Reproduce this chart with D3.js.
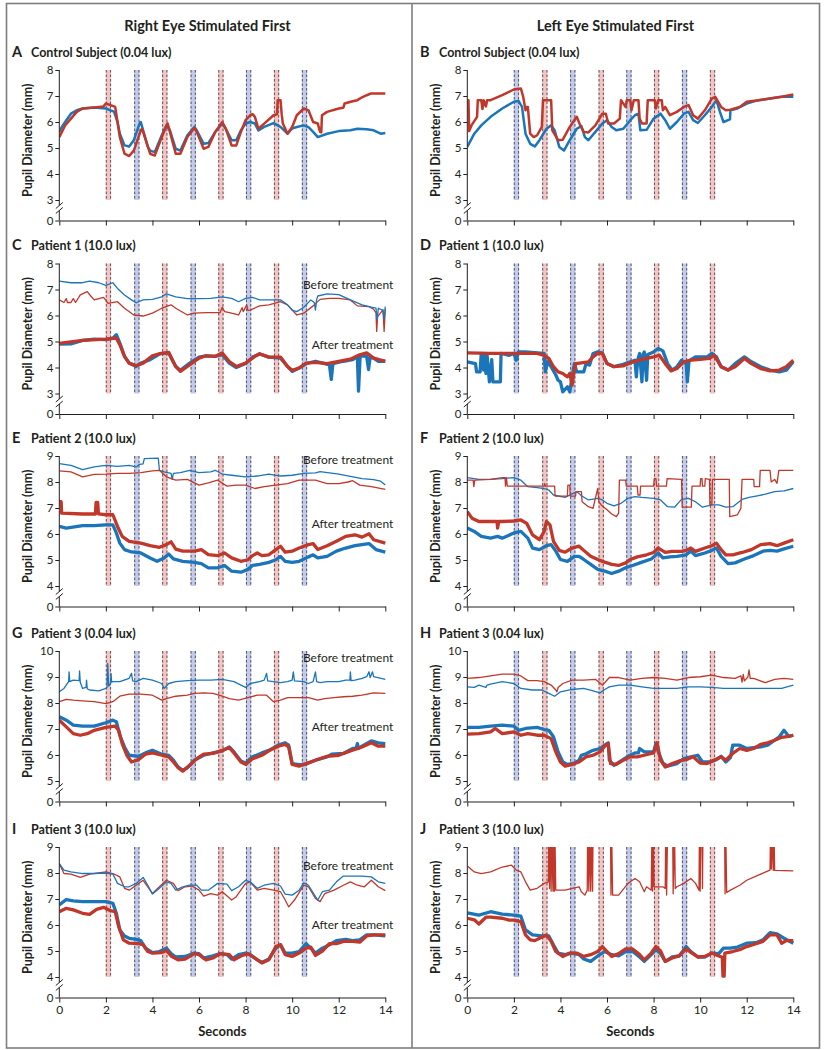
<!DOCTYPE html>
<html><head><meta charset="utf-8">
<script src="https://cdn.jsdelivr.net/npm/d3@7"></script>
<style>
body{margin:0;background:#fff}
svg{display:block}
text{font-family:Lato,"Open Sans",sans-serif;fill:#231f20}
</style>
</head><body>
<svg id="c" width="827" height="1050"></svg>
<script>
// ---------------- DATA ----------------
const columnTitles = ["Right Eye Stimulated First", "Left Eye Stimulated First"];
const xTicks = [0, 2, 4, 6, 8, 10, 12, 14];
const rowTicks = [[3,4,5,6,7,8],[3,4,5,6,7,8],[4,5,6,7,8,9],[5,6,7,8,9,10],[4,5,6,7,8,9]];
const stimStarts = [2.0, 3.22, 4.42, 5.64, 6.83, 8.02, 9.22, 10.42];
const stimWidth = 0.22;

const A_blue = [[0,5.62],[0.1,5.8],[0.25,6.0],[0.5,6.32],[0.75,6.45],[1,6.52],[1.5,6.56],[2,6.52],[2.2,6.45],[2.35,6.4],[2.5,6.0],[2.6,5.55],[2.8,5.1],[3.0,5.06],[3.2,5.3],[3.45,5.95],[3.5,6.0],[3.6,5.68],[3.8,5.05],[3.9,4.9],[4.1,4.84],[4.4,5.49],[4.6,5.87],[4.75,5.68],[5.0,4.97],[5.2,4.9],[5.5,5.49],[5.8,5.81],[5.9,5.68],[6.2,5.16],[6.4,5.19],[6.7,5.62],[7.0,5.94],[7.15,5.74],[7.4,5.3],[7.6,5.3],[7.8,5.68],[8.0,5.94],[8.2,6.0],[8.4,5.94],[8.55,5.68],[8.8,5.81],[9.2,5.96],[9.5,5.81],[9.8,5.55],[10.0,5.75],[10.2,5.81],[10.5,5.87],[10.7,5.8],[10.9,5.62],[11.1,5.42],[11.5,5.55],[12.0,5.65],[12.5,5.68],[12.8,5.74],[13.2,5.72],[13.5,5.68],[13.8,5.55],[14,5.58]];
const A_red = [[0,5.42],[0.25,5.87],[0.5,6.13],[0.75,6.39],[1,6.52],[1.5,6.56],[1.9,6.6],[2.0,6.71],[2.2,6.65],[2.4,6.58],[2.5,6.0],[2.6,5.42],[2.8,4.78],[3.0,4.69],[3.2,4.9],[3.5,5.68],[3.55,5.74],[3.6,5.62],[3.9,4.78],[4.1,4.71],[4.4,5.42],[4.65,5.95],[4.75,5.62],[5.0,4.78],[5.2,4.78],[5.5,5.42],[5.8,5.77],[5.9,5.62],[6.2,4.97],[6.4,5.04],[6.7,5.62],[7.0,6.0],[7.15,5.74],[7.4,5.1],[7.6,5.1],[7.8,5.62],[8.0,6.07],[8.2,6.26],[8.3,6.3],[8.4,6.2],[8.55,5.74],[8.8,5.94],[9.2,6.26],[9.35,6.3],[9.38,6.84],[9.5,6.84],[9.55,6.3],[9.6,5.94],[9.8,5.55],[10.0,5.81],[10.2,6.26],[10.5,6.52],[10.7,6.45],[10.9,6.0],[11.1,5.94],[11.2,5.62],[11.25,5.6],[11.28,6.26],[11.5,6.39],[12.0,6.52],[12.2,6.55],[12.25,6.71],[12.6,6.8],[12.8,6.84],[13.0,6.95],[13.2,7.03],[13.4,7.1],[14,7.1]];

const B_blue = [[0,5.04],[0.3,5.55],[0.6,5.87],[1.0,6.2],[1.5,6.52],[2.0,6.78],[2.2,6.81],[2.35,6.58],[2.5,5.55],[2.7,5.16],[2.9,5.06],[3.1,5.3],[3.4,5.74],[3.6,5.87],[3.75,5.68],[3.95,5.04],[4.15,4.9],[4.4,5.3],[4.7,5.74],[4.9,5.84],[5.05,5.42],[5.2,5.3],[5.5,5.62],[5.8,5.94],[6.0,6.07],[6.2,5.81],[6.4,5.68],[6.7,5.74],[7.0,6.07],[7.2,6.26],[7.35,6.32],[7.43,5.68],[7.7,5.7],[8.0,6.13],[8.3,6.32],[8.5,6.07],[8.7,5.74],[9.0,6.0],[9.3,6.32],[9.5,6.39],[9.7,6.07],[9.9,5.96],[10.2,6.26],[10.5,6.58],[10.7,6.84],[10.85,6.39],[11.0,6.0],[11.28,6.1],[11.3,6.45],[11.6,6.52],[12.0,6.71],[12.5,6.84],[13.0,6.9],[13.5,6.97],[14,6.97]];
const B_red = [[0,6.84],[0.05,6.84],[0.08,5.65],[0.2,5.9],[0.35,6.1],[0.42,6.2],[0.45,6.84],[0.6,6.84],[0.65,6.5],[0.7,6.84],[0.8,6.6],[0.85,6.84],[1.0,6.84],[1.5,7.03],[2.0,7.25],[2.3,7.29],[2.4,6.97],[2.5,6.45],[2.55,6.58],[2.6,6.58],[2.7,5.55],[2.85,5.42],[3.0,5.49],[3.2,5.81],[3.25,6.84],[3.6,6.84],[3.65,5.68],[3.9,5.3],[4.1,5.32],[4.4,5.81],[4.7,6.2],[4.85,5.87],[5.0,5.62],[5.2,5.6],[5.5,5.87],[5.8,6.32],[5.95,6.32],[6.05,5.94],[6.3,5.94],[6.55,6.13],[6.6,6.84],[6.8,6.58],[6.85,6.84],[7.0,6.84],[7.05,6.45],[7.15,6.84],[7.35,6.84],[7.4,6.13],[7.5,5.94],[7.7,5.94],[7.75,6.84],[8.05,6.84],[8.1,6.52],[8.2,6.84],[8.35,6.84],[8.4,6.45],[8.5,6.58],[8.7,6.26],[9.0,6.39],[9.3,6.58],[9.5,6.65],[9.7,6.26],[9.9,6.13],[10.2,6.45],[10.5,6.9],[10.65,6.97],[10.9,6.58],[11.1,6.45],[11.3,6.47],[11.7,6.58],[12.0,6.78],[12.5,6.84],[13.0,6.9],[13.5,6.97],[14,7.06]];

const C_blueBefore = [[0,7.32],[0.5,7.26],[1.0,7.26],[1.3,7.32],[1.7,7.26],[2.0,7.16],[2.3,7.26],[2.5,7.04],[2.8,6.79],[3.1,6.6],[3.3,6.49],[3.6,6.6],[4.0,6.62],[4.4,6.72],[4.6,6.83],[5.0,6.72],[5.5,6.65],[6.0,6.65],[6.5,6.66],[7.0,6.72],[7.4,6.66],[7.7,6.53],[8.0,6.66],[8.3,6.7],[8.6,6.6],[9.0,6.6],[9.5,6.6],[9.8,6.41],[10.0,6.21],[10.2,6.15],[10.5,6.32],[10.8,6.6],[10.95,6.5],[11.0,6.21],[11.05,6.6],[11.1,6.75],[11.5,6.83],[12.0,6.8],[12.5,6.6],[13.0,6.41],[13.4,6.32],[13.6,6.28],[13.65,5.83],[13.7,6.28],[13.9,6.2],[13.95,5.83],[14,6.34]];
const C_redBefore = [[0,6.6],[0.2,6.5],[0.3,6.65],[0.35,6.5],[0.5,6.5],[0.6,6.65],[0.7,6.5],[0.9,6.79],[1.2,6.92],[1.35,6.75],[1.5,6.6],[1.9,6.7],[2.1,6.47],[2.5,6.53],[2.8,6.28],[3.2,6.02],[3.6,5.98],[4.0,6.09],[4.4,6.28],[4.8,6.41],[5.0,6.28],[5.5,6.02],[5.8,6.09],[6.3,6.11],[6.9,6.11],[7.0,6.32],[7.1,6.15],[7.3,6.11],[7.7,6.02],[7.85,6.3],[7.9,6.15],[8.05,6.41],[8.1,6.2],[8.2,6.21],[8.6,6.37],[9.0,6.41],[9.5,6.53],[9.8,6.41],[10.0,6.21],[10.2,6.02],[10.5,6.09],[10.9,6.37],[11.2,6.62],[11.6,6.66],[12.0,6.66],[12.5,6.6],[12.8,6.37],[13.3,6.34],[13.5,6.24],[13.6,6.1],[13.63,5.39],[13.67,5.96],[13.9,6.22],[13.95,5.39],[14,6.25]];
const C_blueAfter = [[0,4.9],[0.5,4.91],[1.0,5.04],[1.5,5.09],[2.0,5.07],[2.3,5.13],[2.45,5.26],[2.6,4.94],[2.8,4.43],[3.0,4.17],[3.3,4.04],[3.5,4.17],[3.9,4.3],[4.3,4.52],[4.7,4.56],[4.85,4.3],[5.0,4.04],[5.2,3.89],[5.6,4.17],[6.0,4.4],[6.3,4.45],[6.7,4.43],[7.0,4.49],[7.3,4.17],[7.6,4.0],[8.0,4.15],[8.3,4.4],[8.6,4.52],[9.0,4.4],[9.5,4.36],[9.8,4.04],[10.0,3.85],[10.3,3.98],[10.6,4.15],[11.0,4.24],[11.4,4.15],[11.6,4.1],[11.68,3.54],[11.75,4.15],[12.2,4.24],[12.6,4.3],[12.8,4.43],[12.85,3.09],[12.92,4.45],[13.2,4.43],[13.28,3.92],[13.35,4.4],[13.5,4.36],[13.7,4.24],[14,4.24]];
const C_redAfter = [[0,4.93],[1.0,5.04],[2.0,5.09],[2.45,5.13],[2.6,4.88],[2.8,4.43],[3.0,4.17],[3.3,4.07],[3.6,4.17],[4.0,4.45],[4.3,4.53],[4.7,4.58],[4.85,4.3],[5.0,4.04],[5.2,3.85],[5.5,4.04],[6.0,4.36],[6.3,4.45],[6.7,4.43],[7.0,4.56],[7.3,4.23],[7.6,4.04],[8.0,4.17],[8.4,4.43],[8.6,4.53],[9.0,4.4],[9.5,4.4],[9.8,4.04],[10.0,3.89],[10.3,3.98],[10.6,4.17],[11.0,4.2],[11.5,4.15],[12.0,4.24],[12.5,4.32],[12.9,4.49],[13.2,4.56],[13.5,4.36],[14,4.24]];

const D_blue = [[0,4.22],[0.35,4.15],[0.4,3.83],[0.55,3.83],[0.6,4.54],[0.7,3.9],[0.75,4.5],[0.8,3.77],[0.85,4.47],[0.95,3.45],[1.05,4.3],[1.1,3.45],[1.42,3.45],[1.45,4.54],[1.8,4.47],[2.0,4.54],[2.1,4.28],[2.2,4.6],[2.5,4.6],[3.0,4.56],[3.3,4.54],[3.35,3.83],[3.45,4.22],[3.6,4.03],[3.8,3.71],[3.9,3.51],[4.0,3.45],[4.1,3.06],[4.3,3.26],[4.4,3.06],[4.5,3.64],[4.6,4.15],[4.7,3.83],[5.0,3.83],[5.1,4.15],[5.25,4.09],[5.4,4.54],[5.6,4.6],[5.8,4.56],[6.0,4.15],[6.3,4.03],[6.7,4.12],[7.0,4.22],[7.2,4.28],[7.26,3.64],[7.32,4.3],[7.4,4.54],[7.5,3.45],[7.55,4.5],[7.6,4.6],[7.7,3.51],[7.75,4.5],[8.0,4.6],[8.2,4.73],[8.4,4.64],[8.6,4.15],[8.8,3.9],[9.0,4.03],[9.2,4.28],[9.4,4.15],[9.45,3.45],[9.52,4.25],[9.8,4.41],[10.3,4.41],[10.5,4.54],[10.7,4.41],[10.9,4.03],[11.2,3.9],[11.5,4.15],[11.9,4.41],[12.2,4.22],[12.6,4.03],[13.0,3.9],[13.4,3.83],[13.7,3.9],[14,4.22]];
const D_red = [[0,4.56],[1,4.54],[2.0,4.54],[3.0,4.54],[3.3,4.47],[3.5,4.35],[3.7,4.03],[3.9,3.83],[4.1,3.77],[4.3,3.64],[4.4,3.77],[4.5,3.32],[4.55,3.64],[4.65,4.15],[4.9,4.18],[5.2,4.22],[5.4,4.41],[5.6,4.54],[5.8,4.54],[6.0,4.15],[6.3,4.03],[6.7,4.06],[7.0,4.18],[7.5,4.31],[8.0,4.41],[8.25,4.47],[8.5,4.15],[8.75,3.87],[9.0,3.96],[9.3,4.22],[9.6,4.28],[10.0,4.31],[10.4,4.35],[10.6,4.47],[10.9,4.03],[11.2,3.9],[11.5,4.03],[11.9,4.35],[12.2,4.15],[12.6,3.96],[13.0,3.87],[13.4,3.9],[13.7,4.03],[14,4.28]];

const E_blueBefore = [[0,8.71],[0.5,8.64],[1.0,8.48],[1.5,8.58],[2.0,8.64],[2.5,8.6],[3.0,8.64],[3.3,8.58],[3.45,8.68],[3.6,8.7],[3.65,8.9],[4.25,8.92],[4.3,8.45],[4.5,8.39],[4.8,8.33],[4.85,8.1],[4.9,8.33],[5.2,8.36],[5.6,8.45],[6.0,8.36],[6.5,8.39],[6.7,8.45],[7.0,8.3],[7.4,8.26],[8.0,8.2],[8.5,8.23],[9.0,8.3],[9.5,8.23],[10.0,8.26],[10.5,8.33],[11.0,8.35],[11.2,8.4],[12.0,8.3],[13.0,8.13],[13.5,8.09],[13.8,8.03],[14,7.88]];
const E_redBefore = [[0,8.43],[0.5,8.39],[1.0,8.2],[1.5,8.29],[2.0,8.3],[2.5,8.33],[3.0,8.33],[3.5,8.36],[4.0,8.43],[4.3,8.45],[4.6,8.2],[5.0,8.07],[5.5,8.1],[6.0,7.88],[6.4,7.97],[6.8,8.07],[7.2,7.84],[7.6,7.88],[8.0,7.88],[8.4,7.75],[8.8,7.82],[9.3,7.88],[9.8,7.94],[10.3,8.07],[11.0,8.07],[11.5,7.94],[12.0,7.94],[12.4,8.0],[12.6,8.05],[12.9,7.88],[13.4,7.82],[14,7.72]];
const E_blueAfter = [[0,6.29],[0.3,6.23],[1.0,6.32],[1.5,6.32],[2.0,6.35],[2.3,6.35],[2.45,6.04],[2.6,5.65],[2.8,5.4],[3.1,5.31],[3.5,5.27],[3.9,5.08],[4.2,4.95],[4.5,5.08],[4.7,5.23],[4.9,5.04],[5.3,4.95],[5.8,4.91],[6.1,4.86],[6.4,4.7],[6.8,4.7],[7.1,4.79],[7.4,4.57],[7.8,4.53],[8.1,4.64],[8.3,4.79],[8.6,4.83],[9.0,4.91],[9.3,5.01],[9.5,5.14],[9.7,4.95],[10.0,4.91],[10.3,4.95],[10.7,5.12],[10.9,5.2],[11.1,5.08],[11.5,5.14],[11.9,5.34],[12.3,5.46],[12.7,5.55],[13.0,5.59],[13.3,5.63],[13.6,5.4],[14,5.3]];
const E_redAfter = [[0,7.24],[0.08,7.24],[0.1,6.8],[1.0,6.77],[1.55,6.77],[1.58,7.22],[1.65,7.22],[1.68,6.77],[2.0,6.74],[2.3,6.74],[2.5,6.29],[2.7,5.91],[3.0,5.72],[3.5,5.65],[3.9,5.55],[4.3,5.49],[4.6,5.59],[4.8,5.7],[5.0,5.42],[5.3,5.34],[5.8,5.34],[6.1,5.4],[6.4,5.21],[6.8,5.17],[7.1,5.27],[7.4,5.08],[7.8,4.95],[8.1,5.01],[8.3,5.17],[8.5,5.27],[8.7,5.17],[9.0,5.2],[9.3,5.4],[9.5,5.53],[9.7,5.3],[10.0,5.34],[10.3,5.46],[10.7,5.59],[10.9,5.63],[11.1,5.4],[11.5,5.55],[11.9,5.72],[12.3,5.91],[12.7,5.97],[13.0,5.88],[13.3,6.01],[13.5,5.78],[14,5.65]];

const F_blueBefore = [[0,8.17],[0.5,8.1],[1.0,8.1],[1.5,8.13],[2.0,8.17],[2.3,8.07],[2.6,7.82],[3.0,7.78],[3.3,7.75],[3.5,7.69],[3.7,7.5],[4.2,7.41],[4.7,7.63],[4.9,7.47],[5.2,7.31],[5.6,7.37],[5.8,7.31],[6.0,7.18],[6.3,7.08],[6.6,7.18],[6.9,7.37],[7.2,7.44],[7.5,7.41],[8.0,7.37],[8.3,7.31],[8.6,7.05],[8.9,7.03],[9.2,7.33],[9.5,7.37],[9.8,7.24],[10.1,7.03],[10.5,7.12],[10.8,7.12],[11.1,7.03],[11.4,7.05],[11.8,7.33],[12.1,7.41],[12.4,7.46],[12.8,7.53],[13.2,7.63],[13.6,7.66],[14,7.75]];
const F_redBefore = [[0,8.07],[0.25,8.07],[0.28,7.82],[0.32,8.07],[1.0,8.1],[1.5,8.17],[1.62,8.17],[1.64,7.84],[1.68,8.17],[1.72,7.84],[2.0,7.84],[3.0,7.84],[3.3,7.84],[3.32,7.94],[3.36,7.84],[3.75,7.84],[3.77,7.46],[4.3,7.46],[4.32,7.88],[4.4,7.88],[4.42,7.46],[4.65,7.46],[4.67,7.63],[4.9,7.63],[4.93,7.24],[5.2,7.05],[5.4,6.99],[5.5,7.37],[5.6,7.75],[5.65,7.24],[5.75,7.12],[6.0,6.93],[6.2,6.77],[6.4,6.67],[6.5,6.8],[6.53,8.07],[6.8,8.07],[6.83,7.84],[7.3,7.84],[7.33,7.5],[7.42,7.5],[7.44,7.84],[8.0,7.84],[8.03,8.13],[8.1,8.13],[8.13,7.84],[8.55,7.84],[8.58,8.13],[9.2,8.1],[9.23,7.03],[9.62,7.03],[9.65,7.84],[10.0,7.84],[10.02,8.13],[10.08,8.13],[10.1,7.84],[10.2,7.84],[10.22,8.13],[10.4,8.1],[10.42,7.12],[10.5,7.12],[10.53,8.1],[11.25,8.1],[11.27,6.67],[11.6,6.74],[11.75,6.99],[11.8,8.1],[12.3,8.1],[12.32,7.82],[12.55,7.82],[12.58,8.45],[13.0,8.45],[13.05,8.0],[13.2,8.1],[13.3,7.95],[13.38,8.45],[14,8.45]];
const F_blueAfter = [[0,6.23],[0.3,6.1],[0.6,5.91],[1.0,5.84],[1.3,5.91],[1.5,5.84],[2.0,6.04],[2.3,6.1],[2.6,5.84],[2.8,5.46],[3.1,5.4],[3.4,5.55],[3.6,5.59],[3.8,5.34],[4.0,5.02],[4.3,4.95],[4.6,5.14],[4.8,5.14],[5.0,5.02],[5.3,4.83],[5.6,4.64],[5.9,4.57],[6.2,4.48],[6.5,4.57],[6.8,4.7],[7.1,4.79],[7.5,4.92],[7.9,5.04],[8.2,5.27],[8.4,5.08],[8.7,5.12],[9.0,5.14],[9.4,5.2],[9.6,5.34],[9.8,5.17],[10.2,5.27],[10.5,5.37],[10.7,5.46],[10.9,5.14],[11.2,4.86],[11.5,4.89],[11.9,5.04],[12.3,5.17],[12.7,5.34],[13.0,5.37],[13.3,5.34],[13.6,5.43],[14,5.53]];
const F_redAfter = [[0,6.86],[0.2,6.61],[0.5,6.48],[1.0,6.48],[1.28,6.48],[1.3,6.23],[1.35,6.48],[1.5,6.48],[2.0,6.5],[2.3,6.54],[2.55,6.41],[2.8,5.97],[3.1,5.78],[3.3,6.1],[3.4,6.48],[3.55,6.35],[3.7,5.72],[3.95,5.37],[4.2,5.3],[4.5,5.46],[4.8,5.53],[5.0,5.37],[5.3,5.14],[5.6,5.02],[5.9,4.92],[6.2,4.83],[6.5,4.79],[6.8,4.89],[7.0,5.02],[7.3,5.12],[7.7,5.2],[8.0,5.29],[8.2,5.46],[8.5,5.29],[8.8,5.33],[9.2,5.33],[9.4,5.37],[9.6,5.46],[9.8,5.33],[10.2,5.46],[10.5,5.55],[10.7,5.65],[10.9,5.4],[11.1,5.2],[11.4,5.2],[11.8,5.29],[12.2,5.4],[12.6,5.59],[13.0,5.63],[13.3,5.55],[13.6,5.65],[14,5.78]];

const G_blueBefore = [[0,8.43],[0.2,8.56],[0.4,8.82],[0.42,9.2],[0.45,8.82],[0.6,8.88],[0.85,8.86],[0.87,9.23],[0.9,8.8],[1.0,8.56],[1.15,8.6],[1.17,8.88],[1.2,8.55],[1.3,8.5],[1.7,8.47],[2.0,8.56],[2.05,8.6],[2.08,9.52],[2.12,8.65],[2.2,8.75],[2.22,9.14],[2.25,8.8],[2.3,8.82],[2.6,8.82],[3.0,8.95],[3.1,9.14],[3.15,8.85],[3.3,8.82],[3.6,8.95],[4.0,8.88],[4.4,8.75],[4.5,8.56],[4.7,8.75],[5.0,8.82],[5.5,8.86],[6.0,8.88],[6.5,8.88],[7.0,8.91],[7.5,8.82],[7.8,8.69],[8.0,8.6],[8.2,8.75],[8.6,8.82],[8.8,8.88],[8.9,9.14],[8.95,8.85],[9.2,8.82],[9.5,8.78],[9.8,8.82],[10.0,8.88],[10.05,9.2],[10.1,8.85],[10.5,8.82],[10.7,8.75],[10.9,8.82],[11.0,9.2],[11.05,8.82],[11.2,8.78],[11.5,8.82],[12.0,8.82],[12.3,8.88],[12.48,8.88],[12.5,9.2],[12.53,8.86],[12.7,8.88],[13.0,8.95],[13.2,9.01],[13.3,9.2],[13.35,8.98],[13.45,9.2],[13.5,9.01],[14,8.91]];
const G_redBefore = [[0,8.05],[0.3,8.14],[0.6,8.11],[1.0,8.08],[1.5,8.05],[2.0,7.98],[2.3,8.05],[2.6,8.26],[3.0,8.34],[3.5,8.34],[4.0,8.3],[4.4,8.11],[4.6,8.17],[5.0,8.26],[5.5,8.3],[5.8,8.37],[6.2,8.39],[6.6,8.37],[7.0,8.26],[7.3,8.17],[7.7,8.11],[8.1,8.21],[8.5,8.3],[8.9,8.3],[9.2,8.05],[9.5,8.11],[9.8,8.21],[10.3,8.21],[10.7,8.21],[11.1,8.11],[11.4,8.17],[11.8,8.21],[12.2,8.24],[12.6,8.26],[13.0,8.3],[13.5,8.39],[14,8.37]];
const G_blueAfter = [[0,7.47],[0.3,7.34],[0.6,7.15],[1.0,7.11],[1.5,7.11],[2.0,7.24],[2.3,7.34],[2.45,7.28],[2.6,6.76],[2.8,6.31],[3.0,5.99],[3.4,5.95],[3.7,6.08],[4.0,6.18],[4.4,6.03],[4.7,5.99],[4.9,5.8],[5.1,5.54],[5.3,5.41],[5.5,5.51],[5.8,5.8],[6.2,5.99],[6.6,6.08],[7.0,6.16],[7.3,6.31],[7.5,6.12],[7.8,5.77],[8.0,5.69],[8.3,5.93],[8.7,6.08],[9.0,6.18],[9.4,6.38],[9.7,6.47],[9.85,6.38],[10.0,5.67],[10.3,5.63],[10.6,5.65],[11.0,5.8],[11.5,5.93],[11.7,6.03],[12.2,6.06],[12.6,6.25],[12.75,6.25],[12.8,6.44],[12.85,6.25],[13.0,6.34],[13.4,6.54],[13.7,6.47],[14,6.44]];
const G_redAfter = [[0,7.34],[0.3,7.08],[0.6,6.82],[0.9,6.76],[1.2,6.82],[1.5,6.95],[2.0,7.06],[2.4,7.11],[2.55,6.95],[2.7,6.44],[2.9,5.99],[3.1,5.73],[3.4,5.82],[3.7,6.03],[4.0,6.08],[4.4,5.99],[4.7,5.93],[4.9,5.73],[5.1,5.51],[5.3,5.38],[5.6,5.6],[5.9,5.86],[6.2,6.03],[6.6,6.06],[7.0,6.18],[7.3,6.28],[7.5,6.08],[7.8,5.73],[8.0,5.64],[8.3,5.86],[8.7,5.99],[9.0,6.16],[9.4,6.34],[9.7,6.41],[9.85,6.31],[10.0,5.64],[10.3,5.57],[10.6,5.67],[11.0,5.8],[11.5,5.95],[12.0,5.99],[12.5,6.16],[13.0,6.31],[13.4,6.47],[13.7,6.34],[14,6.34]];

const H_redBefore = [[0,8.95],[0.5,8.98],[1.0,9.04],[1.5,9.11],[2.0,9.11],[2.3,9.04],[2.6,8.86],[3.0,8.86],[3.3,8.82],[3.6,8.69],[3.8,8.5],[3.85,8.43],[3.9,8.6],[4.1,8.75],[4.5,8.88],[5.0,8.88],[5.5,8.91],[5.8,8.69],[5.9,8.78],[6.1,8.98],[6.5,8.98],[7.0,8.88],[7.5,8.95],[8.0,8.98],[8.5,8.95],[9.0,8.88],[9.5,8.98],[10.0,9.01],[10.5,9.07],[11.0,8.98],[11.5,8.95],[11.75,9.04],[11.8,8.8],[11.85,9.1],[11.9,8.85],[12.05,9.0],[12.1,9.27],[12.15,8.95],[12.3,8.95],[12.8,8.78],[13.2,8.91],[13.6,8.95],[14,8.91]];
const H_blueBefore = [[0,8.62],[0.3,8.6],[0.5,8.69],[0.8,8.6],[0.85,8.69],[1.0,8.73],[1.5,8.82],[2.0,8.75],[2.3,8.56],[2.8,8.5],[3.2,8.5],[3.5,8.37],[3.75,8.26],[4.0,8.43],[4.5,8.52],[5.0,8.56],[5.4,8.47],[5.7,8.39],[5.9,8.52],[6.1,8.62],[6.5,8.69],[7.0,8.69],[7.5,8.62],[8.0,8.56],[8.5,8.56],[9.0,8.56],[9.5,8.62],[10.0,8.62],[10.5,8.6],[11.0,8.56],[11.5,8.56],[12.0,8.56],[12.5,8.56],[13.0,8.56],[13.5,8.56],[14,8.69]];
const H_blueAfter = [[0,7.06],[0.5,7.06],[1.0,7.11],[1.5,7.15],[2.0,7.11],[2.2,6.95],[2.5,7.02],[3.0,7.06],[3.3,6.98],[3.5,6.95],[3.7,6.7],[3.9,6.12],[4.1,5.73],[4.3,5.64],[4.6,5.69],[4.8,5.8],[4.9,5.99],[5.1,6.05],[5.4,6.18],[5.7,6.25],[5.9,6.38],[6.05,6.47],[6.1,5.8],[6.3,5.6],[6.6,5.77],[6.9,5.95],[7.2,6.08],[7.35,6.08],[7.4,6.25],[7.6,6.12],[8.0,6.12],[8.1,6.44],[8.2,6.12],[8.4,5.69],[8.6,5.57],[9.0,5.67],[9.3,5.86],[9.6,5.93],[9.9,5.99],[10.1,5.73],[10.4,5.73],[10.7,5.82],[10.9,5.95],[11.1,5.73],[11.3,5.9],[11.4,6.38],[11.7,6.38],[12.0,6.25],[12.3,6.28],[12.6,6.31],[12.9,6.38],[13.2,6.57],[13.4,6.7],[13.6,6.95],[13.8,6.72],[14,6.76]];
const H_redAfter = [[0,6.8],[0.5,6.82],[1.0,6.89],[1.2,7.02],[1.5,6.82],[2.0,6.89],[2.3,6.76],[2.6,6.82],[3.0,6.76],[3.3,6.76],[3.6,6.63],[3.8,6.12],[4.0,5.73],[4.2,5.57],[4.5,5.64],[4.8,5.73],[5.1,5.93],[5.4,5.99],[5.7,6.12],[5.9,6.34],[6.05,6.44],[6.15,5.67],[6.4,5.64],[6.7,5.8],[7.0,5.93],[7.3,5.93],[7.6,5.99],[8.0,6.08],[8.15,6.47],[8.3,5.8],[8.5,5.54],[8.8,5.67],[9.1,5.77],[9.4,5.82],[9.7,5.93],[10.0,5.69],[10.3,5.67],[10.6,5.8],[10.9,5.93],[11.1,5.8],[11.4,6.06],[11.7,6.25],[12.0,6.18],[12.3,6.25],[12.6,6.41],[12.9,6.47],[13.2,6.57],[13.5,6.68],[13.8,6.72],[14,6.76]];

const I_blueBefore = [[0,8.36],[0.2,8.11],[0.5,8.04],[1.0,7.98],[1.5,7.98],[2.0,8.0],[2.3,7.96],[2.5,7.6],[2.8,7.47],[3.0,7.47],[3.3,7.6],[3.6,7.83],[3.8,7.53],[4.0,7.19],[4.3,7.41],[4.6,7.66],[4.8,7.6],[5.0,7.34],[5.3,7.47],[5.6,7.53],[5.9,7.53],[6.1,7.34],[6.4,7.34],[6.8,7.6],[7.2,7.57],[7.4,7.32],[7.7,7.47],[8.0,7.72],[8.2,7.66],[8.5,7.41],[8.8,7.53],[9.2,7.6],[9.5,7.5],[9.7,7.19],[10.0,7.15],[10.3,7.34],[10.5,7.62],[10.7,7.53],[10.9,7.24],[11.1,6.96],[11.3,7.28],[11.6,7.34],[11.9,7.66],[12.2,7.88],[12.6,7.88],[13.0,7.88],[13.4,7.85],[13.7,7.66],[14,7.6]];
const I_redBefore = [[0,8.36],[0.2,7.98],[0.5,7.96],[0.9,7.83],[1.3,7.96],[2.0,8.04],[2.3,7.98],[2.6,7.85],[2.8,7.41],[3.0,7.34],[3.3,7.53],[3.6,7.72],[3.8,7.47],[4.0,7.21],[4.3,7.47],[4.6,7.72],[4.9,7.6],[5.1,7.32],[5.4,7.47],[5.7,7.5],[6.0,7.34],[6.2,7.11],[6.5,7.21],[6.8,7.15],[7.0,7.28],[7.4,6.96],[7.6,7.09],[8.0,7.6],[8.2,7.66],[8.5,7.34],[8.8,7.41],[9.2,7.34],[9.5,7.28],[9.7,6.96],[9.85,6.7],[10.1,6.96],[10.5,7.53],[10.7,7.47],[11.0,7.02],[11.2,6.9],[11.4,7.21],[11.8,7.34],[12.2,7.53],[12.5,7.66],[12.8,7.53],[13.1,7.47],[13.4,7.72],[13.7,7.47],[14,7.32]];
const I_blueAfter = [[0,6.77],[0.3,6.98],[0.6,6.93],[1.0,6.9],[1.5,6.9],[2.0,6.9],[2.3,6.83],[2.45,6.45],[2.6,5.81],[2.8,5.58],[3.0,5.49],[3.3,5.45],[3.5,5.4],[3.7,5.11],[4.0,4.94],[4.3,4.98],[4.6,5.11],[4.8,4.9],[5.0,4.77],[5.4,4.79],[5.8,4.92],[6.0,4.9],[6.2,4.73],[6.5,4.79],[6.9,4.9],[7.2,4.86],[7.4,4.69],[7.7,4.86],[8.0,4.92],[8.2,4.86],[8.5,4.66],[8.7,4.56],[9.0,4.69],[9.3,5.11],[9.5,5.24],[9.7,4.92],[10.0,4.92],[10.3,4.98],[10.6,5.28],[10.8,5.11],[11.0,4.92],[11.3,5.11],[11.6,5.24],[11.9,5.4],[12.3,5.45],[12.6,5.4],[12.9,5.43],[13.2,5.62],[13.5,5.62],[14,5.58]];
const I_redAfter = [[0,6.51],[0.3,6.64],[0.6,6.58],[1.0,6.45],[1.3,6.41],[1.6,6.6],[1.9,6.68],[2.2,6.55],[2.4,6.51],[2.55,5.94],[2.75,5.43],[3.0,5.3],[3.4,5.28],[3.6,5.24],[3.8,4.98],[4.0,4.92],[4.4,4.94],[4.6,5.02],[4.8,4.81],[5.1,4.66],[5.4,4.69],[5.8,4.9],[6.0,4.86],[6.3,4.66],[6.6,4.73],[6.9,4.9],[7.3,4.86],[7.5,4.66],[7.8,4.81],[8.1,4.9],[8.4,4.73],[8.7,4.54],[9.0,4.66],[9.3,5.17],[9.5,5.24],[9.7,4.86],[10.0,4.79],[10.3,4.92],[10.6,5.11],[10.8,5.15],[11.0,4.83],[11.3,5.0],[11.6,5.28],[11.9,5.28],[12.2,5.37],[12.6,5.37],[12.9,5.34],[13.2,5.58],[13.5,5.62],[14,5.62]];

const J_redBefore = [[0,8.27],[0.3,8.04],[0.6,7.98],[1.0,8.04],[1.5,8.23],[1.9,8.3],[2.1,8.11],[2.3,8.04],[2.5,7.66],[2.7,7.34],[3.0,7.41],[3.3,7.6],[3.48,7.66],[3.5,9.6],[3.53,7.4],[3.56,9.6],[3.6,7.3],[3.62,9.6],[3.68,7.3],[3.7,9.6],[3.74,7.3],[3.76,9.6],[3.8,7.34],[4.2,7.34],[4.5,7.41],[4.8,7.47],[4.9,7.28],[5.05,7.15],[5.15,7.34],[5.17,9.6],[5.22,7.3],[5.25,9.6],[5.3,7.3],[5.33,9.6],[5.38,7.3],[5.4,9.6],[6.15,9.6],[6.17,7.15],[6.2,9.6],[6.24,7.15],[6.5,7.15],[6.9,7.6],[7.2,7.79],[7.4,7.66],[7.6,7.28],[7.7,7.47],[7.9,7.34],[7.93,9.6],[7.96,7.3],[7.98,9.6],[8.02,7.47],[8.4,7.47],[8.5,7.41],[8.52,9.6],[8.56,7.15],[8.6,9.6],[8.82,9.6],[8.84,7.2],[8.9,9.6],[8.93,7.4],[9.0,7.47],[9.3,7.6],[9.6,7.79],[9.8,7.6],[9.95,7.34],[9.97,9.6],[10.0,7.3],[10.03,9.6],[10.08,9.6],[10.1,7.4],[10.12,9.6],[11.05,9.6],[11.07,7.2],[11.1,9.6],[11.14,7.25],[11.3,7.34],[11.7,7.53],[12.0,7.72],[12.5,7.92],[13.0,8.11],[13.02,9.6],[13.06,8.15],[13.1,9.6],[13.14,8.1],[13.17,9.6],[13.2,8.1],[14,8.08]];
const J_blueAfter = [[0,6.47],[0.5,6.38],[1.0,6.51],[1.5,6.42],[2.0,6.38],[2.3,6.34],[2.5,5.81],[2.8,5.62],[3.2,5.58],[3.5,5.58],[3.7,5.24],[3.9,4.92],[4.2,4.86],[4.5,4.92],[4.8,4.86],[5.0,4.69],[5.3,4.6],[5.6,4.81],[5.9,4.98],[6.2,4.86],[6.5,4.81],[6.8,4.98],[7.1,4.98],[7.4,4.77],[7.6,4.6],[7.9,4.86],[8.1,5.05],[8.3,4.9],[8.5,4.6],[8.8,4.77],[9.1,4.81],[9.4,5.17],[9.6,4.98],[9.9,4.77],[10.2,4.77],[10.5,4.92],[10.8,4.9],[11.0,5.11],[11.3,5.11],[11.6,5.15],[12.0,5.3],[12.4,5.32],[12.7,5.43],[13.0,5.71],[13.3,5.66],[13.6,5.49],[14,5.3]];
const J_redAfter = [[0,6.26],[0.3,6.2],[0.5,6.04],[0.8,6.3],[1.0,6.3],[1.5,6.26],[1.8,6.19],[2.0,6.19],[2.3,6.13],[2.5,5.62],[2.7,5.43],[2.9,5.4],[3.1,5.49],[3.4,5.62],[3.6,5.37],[3.8,4.98],[4.1,4.79],[4.4,4.92],[4.7,4.92],[5.0,4.79],[5.3,4.86],[5.6,4.98],[5.8,5.17],[6.0,4.98],[6.2,4.79],[6.5,4.9],[6.8,5.08],[7.1,5.08],[7.4,4.86],[7.6,4.66],[7.9,4.92],[8.1,5.17],[8.3,5.0],[8.5,4.6],[8.8,4.73],[9.1,4.81],[9.4,5.08],[9.6,4.95],[9.9,4.77],[10.2,4.79],[10.5,4.92],[10.8,4.81],[10.95,4.76],[10.98,4.03],[11.03,4.03],[11.06,4.92],[11.4,4.98],[11.7,5.05],[12.0,5.17],[12.4,5.28],[12.7,5.37],[13.0,5.62],[13.3,5.62],[13.5,5.3],[13.7,5.4],[14,5.4]];

// panel definitions
const panels = [
  {letter:"A", title:"Control Subject (0.04 lux)", row:0, col:0, lines:[[A_blue,"blue","ctl"],[A_red,"red","ctl"]]},
  {letter:"B", title:"Control Subject (0.04 lux)", row:0, col:1, lines:[[B_blue,"blue","ctl"],[B_red,"red","ctl"]]},
  {letter:"C", title:"Patient 1 (10.0 lux)", row:1, col:0, labels:[7.17,4.87], lines:[[C_redBefore,"red","pre"],[C_blueBefore,"blue","pre"],[C_blueAfter,"blue","post"],[C_redAfter,"red","post"]]},
  {letter:"D", title:"Patient 1 (10.0 lux)", row:1, col:1, lines:[[D_blue,"blue","post"],[D_red,"red","post"]]},
  {letter:"E", title:"Patient 2 (10.0 lux)", row:2, col:0, labels:[8.87,6.39], lines:[[E_blueBefore,"blue","pre"],[E_redBefore,"red","pre"],[E_blueAfter,"blue","post"],[E_redAfter,"red","post"]]},
  {letter:"F", title:"Patient 2 (10.0 lux)", row:2, col:1, lines:[[F_blueBefore,"blue","pre"],[F_redBefore,"red","pre"],[F_blueAfter,"blue","post"],[F_redAfter,"red","post"]]},
  {letter:"G", title:"Patient 3 (0.04 lux)", row:3, col:0, labels:[9.73,7.07], lines:[[G_blueBefore,"blue","pre"],[G_redBefore,"red","pre"],[G_blueAfter,"blue","post"],[G_redAfter,"red","post"]]},
  {letter:"H", title:"Patient 3 (0.04 lux)", row:3, col:1, lines:[[H_blueBefore,"blue","pre"],[H_redBefore,"red","pre"],[H_blueAfter,"blue","post"],[H_redAfter,"red","post"]]},
  {letter:"I", title:"Patient 3 (10.0 lux)", row:4, col:0, labels:[8.26,6.0], lines:[[I_redBefore,"red","pre"],[I_blueBefore,"blue","pre"],[I_blueAfter,"blue","post"],[I_redAfter,"red","post"]]},
  {letter:"J", title:"Patient 3 (10.0 lux)", row:4, col:1, lines:[[J_redBefore,"red","pre"],[J_blueAfter,"blue","post"],[J_redAfter,"red","post"]]}
];

// ---------------- LAYOUT / STYLE ----------------
const COLORS = {blue:"#1b75bb", red:"#c1372a"};
const FILLS = {red:"#f5c3c0", blue:"#c3caea"};
const WIDTHS = {ctl:2.5, pre:1.3, post:3.3};
const rowTop = [70, 263.5, 456, 651, 847];
const plotH = 130, zeroOff = 150.5;
const colX0 = [59.3, 467.3], plotW = 326;
const colOff = [0, 408];

const svg = d3.select("#c");
svg.append("rect").attr("x",6.5).attr("y",3.5).attr("width",813).attr("height",1044.5)
  .attr("fill","none").attr("stroke","#7d7d7d").attr("stroke-width",1.6);
svg.append("line").attr("x1",412).attr("x2",412).attr("y1",3.5).attr("y2",1048)
  .attr("stroke","#7d7d7d").attr("stroke-width",1.6);

columnTitles.forEach((t,i)=>{
  svg.append("text").attr("x",207.5+colOff[i]).attr("y",31).attr("text-anchor","middle")
    .attr("font-size",14.5).attr("font-weight",700).text(t);
});

const defs = svg.append("defs");

panels.forEach((p,pi)=>{
  const x0 = colX0[p.col], top = rowTop[p.row];
  const ticks = rowTicks[p.row];
  const lo = ticks[0], hi = ticks[ticks.length-1];
  const minY = top + plotH, zeroY = top + zeroOff;
  const x = d3.scaleLinear().domain([0,14]).range([x0, x0+plotW]);
  const y = d3.scaleLinear().domain([0, lo, hi]).range([zeroY, minY, top]);
  const g = svg.append("g");

  // title
  const tx = 12 + colOff[p.col];
  g.append("text").attr("x",tx).attr("y",top-13.5).attr("font-size",14.5).attr("font-weight",700).text(p.letter);
  g.append("text").attr("x",tx+19).attr("y",top-13.5).attr("font-size",12.5).attr("font-weight",700).text(p.title);

  // y label
  g.append("text").attr("transform",`translate(${x0-27},${(top+zeroY)/2-5}) rotate(-90)`)
    .attr("text-anchor","middle").attr("font-size",12.5).attr("font-weight",700).text("Pupil Diameter (mm)");

  // stimulus bars
  const firstColor = p.col===0 ? "red" : "blue";
  const other = firstColor==="red" ? "blue" : "red";
  stimStarts.forEach((s,i)=>{
    const c = i%2===0 ? firstColor : other;
    const xa = x(s), xb = x(s+stimWidth);
    g.append("rect").attr("x",xa).attr("y",top).attr("width",xb-xa).attr("height",minY-top).attr("fill",FILLS[c]);
    [xa+0.4, xb-0.4].forEach(xx=>{
      g.append("line").attr("x1",xx).attr("x2",xx).attr("y1",top).attr("y2",minY)
        .attr("stroke","#3a3b4c").attr("stroke-width",0.85).attr("stroke-dasharray","2.6,1.9");
    });
  });

  // clip
  const cid = "clip"+pi;
  defs.append("clipPath").attr("id",cid).append("rect")
    .attr("x",x0).attr("y",top).attr("width",plotW+4).attr("height",minY-top+12);

  const line = d3.line().x(d=>x(d[0])).y(d=>y(d[1]));
  const lg = g.append("g").attr("clip-path",`url(#${cid})`);
  p.lines.forEach(([data,c,k])=>{
    lg.append("path").datum(data).attr("d",line).attr("fill","none")
      .attr("stroke",COLORS[c]).attr("stroke-width",WIDTHS[k])
      .attr("stroke-linejoin","round").attr("stroke-linecap","butt");
  });

  // text labels
  if (p.labels){
    g.append("text").attr("x",x(14)+8).attr("y",y(p.labels[0])).attr("dy","0.35em")
      .attr("text-anchor","end").attr("font-size",12).text("Before treatment");
    g.append("text").attr("x",x(14)+8).attr("y",y(p.labels[1])).attr("dy","0.35em")
      .attr("text-anchor","end").attr("font-size",12).text("After treatment");
  }

  // y axis
  const ya = g.append("g").attr("transform",`translate(${x0},0)`)
    .call(d3.axisLeft(y).tickValues([0].concat(ticks)).tickSize(4).tickPadding(2).tickFormat(d3.format("d")));
  ya.select(".domain").remove();
  ya.selectAll(".tick line").attr("stroke","#231f20");
  ya.selectAll(".tick text").attr("font-size",11.5).attr("font-family","Lato").attr("fill","#231f20");
  const b1 = minY+5.5, b2 = minY+10.5;
  g.append("line").attr("x1",x0).attr("x2",x0).attr("y1",top).attr("y2",b1).attr("stroke","#231f20");
  g.append("line").attr("x1",x0).attr("x2",x0).attr("y1",b2).attr("y2",zeroY).attr("stroke","#231f20");
  [b1,b2].forEach(bb=>{
    g.append("line").attr("x1",x0-3.5).attr("y1",bb+3).attr("x2",x0+3.5).attr("y2",bb-3)
      .attr("stroke","#231f20").attr("stroke-width",1);
  });

  // x axis
  const bottom = p.row===4;
  const xa = g.append("g").attr("transform",`translate(0,${zeroY})`)
    .call(d3.axisBottom(x).tickValues(xTicks).tickSize(5).tickSizeOuter(0).tickPadding(3)
      .tickFormat(bottom ? d3.format("d") : ""));
  xa.select(".domain").attr("stroke","#231f20");
  xa.selectAll(".tick line").attr("stroke","#231f20");
  xa.selectAll(".tick text").attr("font-size",12).attr("font-family","Lato").attr("fill","#231f20");
  if (bottom){
    g.append("text").attr("x",x(7)).attr("y",zeroY+38).attr("text-anchor","middle")
      .attr("font-size",13).attr("font-weight",700).text("Seconds");
  }
});
</script>
</body></html>
